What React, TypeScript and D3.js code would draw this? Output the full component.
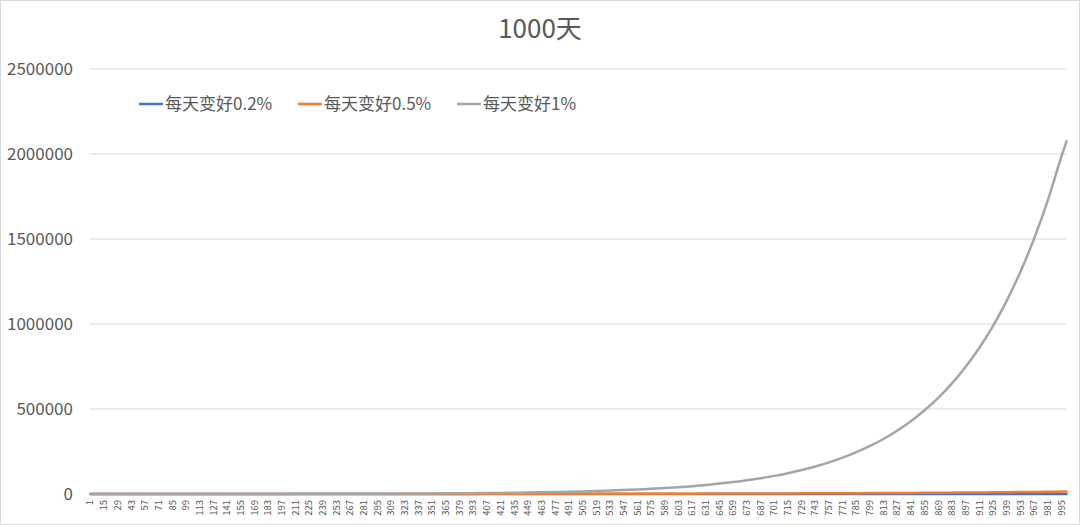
import * as d3 from 'd3'

// sampled at the labelled days (plus the last day)
const days = [
  1, 15, 29, 43, 57, 71, 85, 99, 113, 127, 141, 155, 169, 183, 197, 211, 225, 239,
  253, 267, 281, 295, 309, 323, 337, 351, 365, 379, 393, 407, 421, 435, 449, 463,
  477, 491, 505, 519, 533, 547, 561, 575, 589, 603, 617, 631, 645, 659, 673, 687,
  701, 715, 729, 743, 757, 771, 785, 799, 813, 827, 841, 855, 869, 883, 897, 911,
  925, 939, 953, 967, 981, 995, 1000
]

const better02 = [
  100, 102, 105, 108, 111, 114, 117, 121, 124, 128, 131, 135, 139, 143, 147, 151, 155, 160,
  164, 169, 174, 179, 184, 189, 194, 200, 205, 211, 217, 223, 230, 236, 243, 250,
  257, 264, 272, 279, 287, 295, 304, 312, 321, 330, 340, 349, 359, 369, 380, 391,
  402, 413, 425, 437, 449, 462, 475, 489, 502, 517, 531, 546, 562, 578, 594, 611,
  628, 646, 664, 683, 703, 723, 730
]

const better05 = [
  100, 107, 114, 122, 131, 141, 151, 162, 174, 186, 200, 214, 230, 246, 264, 283, 304, 326,
  349, 375, 402, 431, 462, 495, 531, 570, 611, 655, 703, 753, 808, 866, 929, 996,
  1070, 1145, 1230, 1320, 1410, 1510, 1620, 1740, 1870, 2000, 2150, 2300, 2470, 2650, 2840, 3050,
  3270, 3500, 3750, 4030, 4320, 4630, 4960, 5320, 5710, 6120, 6560, 7040, 7550, 8090, 8680, 9300,
  9980, 10700, 11470, 12300, 13190, 14140, 14500
]

const better1 = [
  101, 116, 133, 153, 176, 203, 233, 268, 308, 354, 407, 468, 538, 618, 711, 817, 940, 1080,
  1240, 1420, 1640, 1880, 2160, 2480, 2860, 3280, 3770, 4340, 4990, 5730, 6590, 7570, 8700, 10000,
  11500, 13200, 15200, 17400, 20000, 23000, 26500, 30400, 35000, 40200, 46200, 53100, 61100, 70200, 80700, 92800,
  106600, 122600, 140900, 162000, 186200, 214000, 246000, 282800, 325100, 373700, 429600, 494000, 567000, 652000, 750000, 862000,
  991000, 1139000, 1309000, 1505000, 1730000, 1989000, 2075000
]

const labelDays = days.slice(0, -1)
const yTicks = [0, 500000, 1000000, 1500000, 2000000, 2500000]

const series = [
  { name: '每天变好0.2%', values: better02, color: '#4472C4' },
  { name: '每天变好0.5%', values: better05, color: '#ED7D31' },
  { name: '每天变好1%', values: better1, color: '#A5A5A5' }
]

const W = 1080
const H = 525
const font = '"Noto Sans CJK SC", "Liberation Sans", sans-serif'
const textColor = '#595959'

export default function App() {
  const x = d3.scaleLinear().domain([0.5, 1000.5]).range([90, 1067])
  const y = d3.scaleLinear().domain([0, 2500000]).range([494, 69])

  const line = d3.line<number>()
    .x((_, i) => x(days[i]))
    .y(d => y(d))
    .curve(d3.curveMonotoneX)

  const legendX = [139, 298, 457]

  return (
    <div style={{ position: 'absolute', left: 0, top: 0 }}>
      <svg width={W} height={H} style={{ display: 'block', fontFamily: font }}>
        <rect x={0.5} y={0.5} width={W - 1} height={H - 1} fill="#fff" stroke="#D9D9D9" />

        <text x={540} y={38} textAnchor="middle" fontSize={26} fill={textColor}>1000天</text>

        {/* grid + y labels */}
        {yTicks.map(t => (
          <g key={t}>
            {t > 0 && (
              <line x1={90} x2={1067} y1={y(t)} y2={y(t)} stroke="#D9D9D9" strokeWidth={1} />
            )}
            <text x={73} y={y(t)} dy="0.35em" textAnchor="end" fontSize={17} fill={textColor}>
              {t}
            </text>
          </g>
        ))}

        <line x1={90} x2={1067} y1={y(0)} y2={y(0)} stroke="#D9D9D9" strokeWidth={1} />

        {/* x labels */}
        {labelDays.map(d => (
          <text
            key={d}
            transform={`translate(${x(d) + 3},${y(0) + 6}) rotate(-90)`}
            textAnchor="end"
            fontSize={9.5}
            fill={textColor}
          >
            {d}
          </text>
        ))}

        {series.map(s => (
          <path
            key={s.name}
            d={line(s.values) ?? ''}
            fill="none"
            stroke={s.color}
            strokeWidth={2.5}
            strokeLinejoin="round"
            strokeLinecap="round"
          />
        ))}

        {/* legend */}
        {series.map((s, i) => (
          <g key={s.name} transform={`translate(${legendX[i]},104)`}>
            <line x1={0} x2={24} y1={0} y2={0} stroke={s.color} strokeWidth={2.5} />
            <text x={26} y={0} dy="0.36em" fontSize={17} fill={textColor}>{s.name}</text>
          </g>
        ))}
      </svg>
    </div>
  )
}
